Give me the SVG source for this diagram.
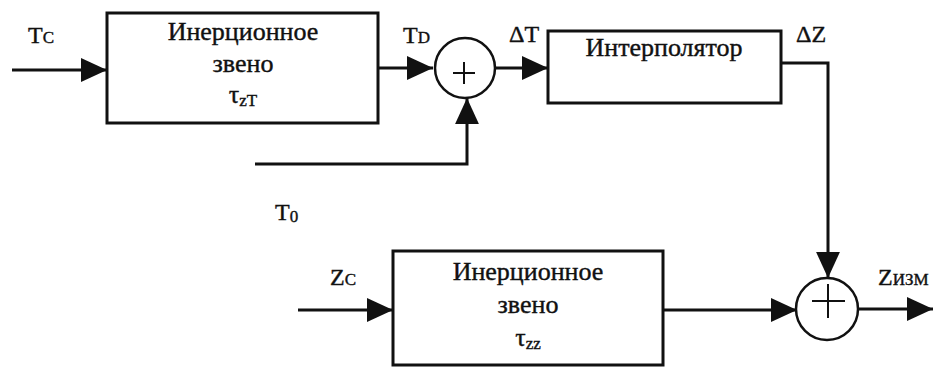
<svg xmlns="http://www.w3.org/2000/svg" width="934" height="367" viewBox="0 0 934 367">
<style>
.box{fill:none;stroke:#111;stroke-width:3}
.ar{fill:none;stroke:#111;stroke-width:3;marker-end:url(#ah)}
.sum{fill:#fff;stroke:#111;stroke-width:2.5}
.plus{stroke:#111;stroke-width:2}
text{fill:#111;stroke:#111;stroke-width:0.4;font-family:'Liberation Serif','Times New Roman',serif}
.t{font-size:26px;text-anchor:middle}
.lb{font-size:24px}
.sb{font-size:17px}
</style>
<defs>
<marker id="ah" markerUnits="userSpaceOnUse" markerWidth="26" markerHeight="26" viewBox="0 0 24 24" refX="24" refY="12" orient="auto">
<path d="M0,1 L24,12 L0,23 Z" fill="#111"/>
</marker>
</defs>
<rect width="934" height="367" fill="#fff"/>
<g id="connectors">
<line class="ar" x1="12" y1="70" x2="107" y2="70"/>
<line class="ar" x1="378" y1="68" x2="433" y2="68"/>
<polyline class="ar" points="255,164 467,164 467,98"/>
<line class="ar" x1="495" y1="68" x2="548" y2="68"/>
<polyline class="ar" points="781,63 828,63 828,278"/>
<line class="ar" x1="298" y1="310" x2="393" y2="310"/>
<line class="ar" x1="663" y1="310" x2="797" y2="310"/>
<line class="ar" x1="857" y1="309" x2="933" y2="309"/>
</g>
<g id="block1">
<rect class="box" x="107" y="13" width="271" height="110"/>
<text class="t" x="243" y="40">Инерционное</text>
<text class="t" x="243" y="72">звено</text>
<text class="t" x="243" y="103">τ<tspan class="sb" dy="3">zT</tspan></text>
</g>
<g id="sum1">
<circle class="sum" cx="465" cy="68" r="30"/>
<line class="plus" x1="453" y1="73" x2="475" y2="73"/>
<line class="plus" x1="464" y1="62" x2="464" y2="84"/>
</g>
<g id="interpolator">
<rect class="box" x="548" y="31" width="233" height="72"/>
<text class="t" x="664" y="56">Интерполятор</text>
</g>
<g id="block2">
<rect class="box" x="393" y="251" width="270" height="114"/>
<text class="t" x="528" y="280">Инерционное</text>
<text class="t" x="528" y="313">звено</text>
<text class="t" x="528" y="346">τ<tspan class="sb" dy="3">zz</tspan></text>
</g>
<g id="sum2">
<circle class="sum" cx="827" cy="309" r="31"/>
<line class="plus" x1="812" y1="301" x2="845" y2="301"/>
<line class="plus" x1="828" y1="284" x2="828" y2="318"/>
</g>
<g id="labels">
<text class="lb" x="28" y="43">T<tspan class="sb">C</tspan></text>
<text class="lb" x="403" y="43">T<tspan class="sb">D</tspan></text>
<text class="lb" x="509" y="42">ΔT</text>
<text class="lb" x="796" y="42">ΔZ</text>
<text class="lb" x="275" y="220">T<tspan class="sb" dy="2">0</tspan></text>
<text class="lb" x="330" y="285">Z<tspan class="sb">C</tspan></text>
<text class="lb" x="878" y="285">Z<tspan class="sb">ИЗМ</tspan></text>
</g>
</svg>
